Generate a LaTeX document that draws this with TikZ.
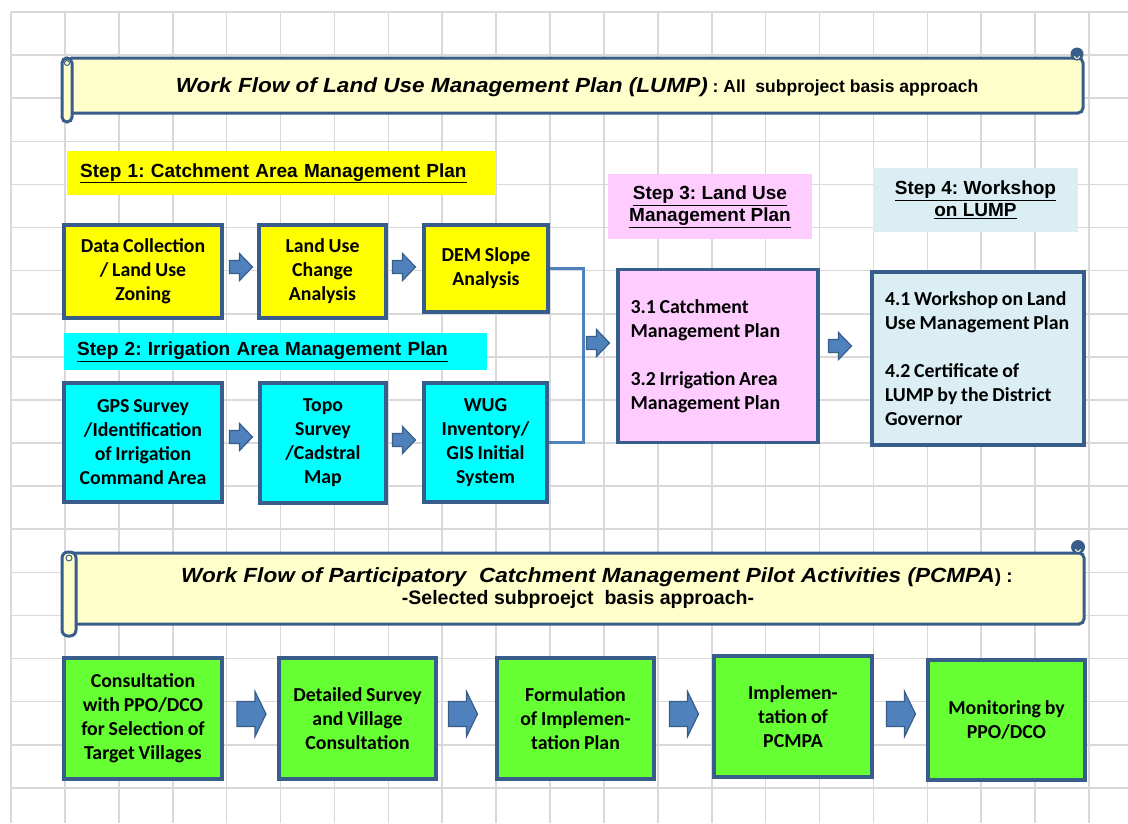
\documentclass[tikz,border=0pt]{standalone}
\usepackage{fontspec}
\setmainfont{Carlito}[WordSpace=0.85]
\newfontfamily\arialf{Liberation Sans}
\newfontfamily\arialwide{Liberation Sans}[FakeStretch=1.1]
\usetikzlibrary{calc}
\frenchspacing

\definecolor{gridc}{HTML}{D9D9D9}
\definecolor{edgec}{HTML}{385D8A}
\definecolor{arrowf}{HTML}{4F81BD}
\definecolor{scrollf}{HTML}{FFFFCC}
\definecolor{yel}{HTML}{FFFF00}
\definecolor{cyn}{HTML}{00FFFF}
\definecolor{pnk}{HTML}{FFCCFF}
\definecolor{lblu}{HTML}{DAEEF3}
\definecolor{grn}{HTML}{66FF33}

\tikzset{
  x=1pt, y=-1pt,
  box/.style={draw=edgec, line width=3.2pt, inner sep=0pt, align=center,
    font=\fontsize{19.8}{24}\selectfont\bfseries},
  wide/.style={box, align=flush left, inner xsep=14pt},
  steplab/.style={inner sep=0pt, align=center,
    font=\arialf\fontsize{19}{22}\selectfont\bfseries},
  arrowpath/.style={draw=edgec, fill=arrowf, line width=1.2pt, line join=miter},
  % block arrows drawn around the origin of the pic
  pics/smallarr/.style={code={
    \path[arrowpath] (-11.5,-6.5) -- (-1.5,-6.5) -- (-1.5,-13.5) -- (11.5,0)
      -- (-1.5,13.5) -- (-1.5,6.5) -- (-11.5,6.5) -- cycle;}},
  pics/bigarr/.style={code={
    \path[arrowpath] (-14.5,-12.5) -- (3.5,-12.5) -- (3.5,-22.5) -- (14.5,0)
      -- (3.5,22.5) -- (3.5,12.5) -- (-14.5,12.5) -- cycle;}},
  scrollbody/.style={draw=edgec, fill=scrollf, line width=3pt, rounded corners=5pt},
  feed/.style={draw=arrowf, line width=3pt}
}

\begin{document}
\begin{tikzpicture}
\useasboundingbox (0,0) rectangle (1128,823);

% spreadsheet grid
\foreach \i in {0,...,20}
  \draw[gridc, line width=1.6pt] ({11+53.9*\i},12) -- ({11+53.9*\i},823);
\foreach \j in {0,...,18}
  \draw[gridc, line width=1.6pt] (11,{12+43.1*\j}) -- (1128,{12+43.1*\j});

% ---------- LUMP scroll banner ----------
\draw[scrollbody] (67,58) rectangle (1083,113);
\fill[edgec] (1077,54) circle (6.5);
\draw[scrollf, line width=1pt] (1074.5,56) arc (180:0:2.5);
\draw[scrollbody, rounded corners=5pt] (62,58) rectangle (72,122);
\draw[edgec, line width=1pt] (67,63) circle (2.5);
\node[inner sep=0pt] (t1) at (577,87)
  {{\arialwide\fontsize{20.5}{24}\selectfont\bfseries\itshape Work Flow of Land Use Management Plan (LUMP)}%
   {\arialf\fontsize{17.5}{24}\selectfont\bfseries\ : All\ \ subproject basis approach}};

% ---------- Step 1 ----------
\node[steplab, fill=yel, minimum width=429, minimum height=44, anchor=north west,
      text width=403, align=left] (s1) at (67,151)
  {\underline{Step 1: Catchment Area Management Plan}};

\node[box, fill=yel, minimum width=158, minimum height=93] (dc) at (143,271.5)
  {Data Collection\\/ Land Use\\Zoning};
\node[box, fill=yel, minimum width=127, minimum height=93] (lu) at (322.5,271.5)
  {Land Use\\Change\\Analysis};
\node[box, fill=yel, minimum width=124, minimum height=87] (dem) at (486,268.5)
  {DEM Slope\\Analysis};
\pic (a1) at (241,267) {smallarr};
\pic (a2) at (404,267) {smallarr};

% ---------- Step 2 ----------
\node[steplab, fill=cyn, minimum width=423, minimum height=37, anchor=north west,
      text width=397, align=left] (s2) at (64,333)
  {\underline{Step 2: Irrigation Area Management Plan}};

\node[box, fill=cyn, minimum width=158, minimum height=119] (gps) at (143,442.5)
  {GPS Survey\\/Identification\\of Irrigation\\Command Area};
\node[box, fill=cyn, minimum width=126, minimum height=120] (topo) at (323,443)
  {Topo\\Survey\\/Cadstral\\Map};
\node[box, fill=cyn, minimum width=123, minimum height=119] (wug) at (485.5,442.5)
  {WUG\\Inventory/\\GIS Initial\\System};
\pic (a3) at (241,437) {smallarr};
\pic (a4) at (404,440) {smallarr};

% bracket joining both step rows
\draw[feed] (dem.east) -- ++(34,0) coordinate (jn) |- (wug.east);

% ---------- Step 3 ----------
\node[steplab, fill=pnk, minimum width=204, minimum height=65] (s3) at (710,206.5)
  {\underline{Step 3: Land Use}\\\underline{Management Plan}};
\node[wide, fill=pnk, minimum width=200, minimum height=173, text width=175, inner xsep=12.5pt] (lump) at (718,356)
  {3.1 Catchment\\Management Plan\\[24pt]3.2 Irrigation Area\\Management Plan};
\pic (a5) at (598,343) {smallarr};

% ---------- Step 4 ----------
\node[steplab, fill=lblu, minimum width=205, minimum height=64] (s4) at (975.5,200)
  {\underline{Step 4: Workshop}\\\underline{on LUMP}};
\node[wide, fill=lblu, minimum width=212, minimum height=173, text width=196, inner xsep=8pt] (ws) at (978,358.5)
  {\hspace*{5pt}4.1 Workshop on Land\\\hspace*{5pt}Use Management Plan\\[24pt]\hspace*{5pt}4.2 Certificate of\\\hspace*{5pt}LUMP by the District\\\hspace*{5pt}Governor};
\pic (a6) at (840,346) {smallarr};

% ---------- PCMPA scroll banner ----------
\draw[scrollbody] (67,553) rectangle (1084,624);
\fill[edgec] (1078,547) circle (7);
\draw[scrollf, line width=1pt] (1075.5,549) arc (180:0:2.5);
\draw[scrollbody, rounded corners=6pt] (62,552) rectangle (76,636);
\draw[edgec, line width=1pt] (69,558) circle (3);
\node[inner sep=0pt] (t2) at (597,577)
  {{\arialwide\fontsize{20.5}{24}\selectfont\bfseries\itshape Work Flow of Participatory\ \ Catchment Management Pilot Activities (PCMPA}%
   {\arialf\fontsize{19}{24}\selectfont\bfseries) :}};
\node[inner sep=0pt, font=\arialf\fontsize{19.5}{24}\selectfont\bfseries] (t3) at (578,599)
  {-Selected subproejct\ \ basis approach-};

% ---------- PCMPA steps ----------
\node[box, fill=grn, minimum width=158, minimum height=121] (cons) at (143,718.5)
  {Consultation\\with PPO/DCO\\for Selection of\\Target Villages};
\node[box, fill=grn, minimum width=157, minimum height=121] (surv) at (357.5,718.5)
  {Detailed Survey\\and Village\\Consultation};
\node[box, fill=grn, minimum width=157, minimum height=121] (form) at (575.5,718.5)
  {Formulation\\of Implemen-\\tation Plan};
\node[box, fill=grn, minimum width=158, minimum height=121] (impl) at (793,716.5)
  {Implemen-\\tation of\\PCMPA};
\node[box, fill=grn, minimum width=157, minimum height=120] (mon) at (1006.5,720)
  {Monitoring by\\PPO/DCO};
\pic (b1) at (251.5,714) {bigarr};
\pic (b2) at (463,714) {bigarr};
\pic (b3) at (684,714) {bigarr};
\pic (b4) at (901,714) {bigarr};
\end{tikzpicture}
\end{document}
